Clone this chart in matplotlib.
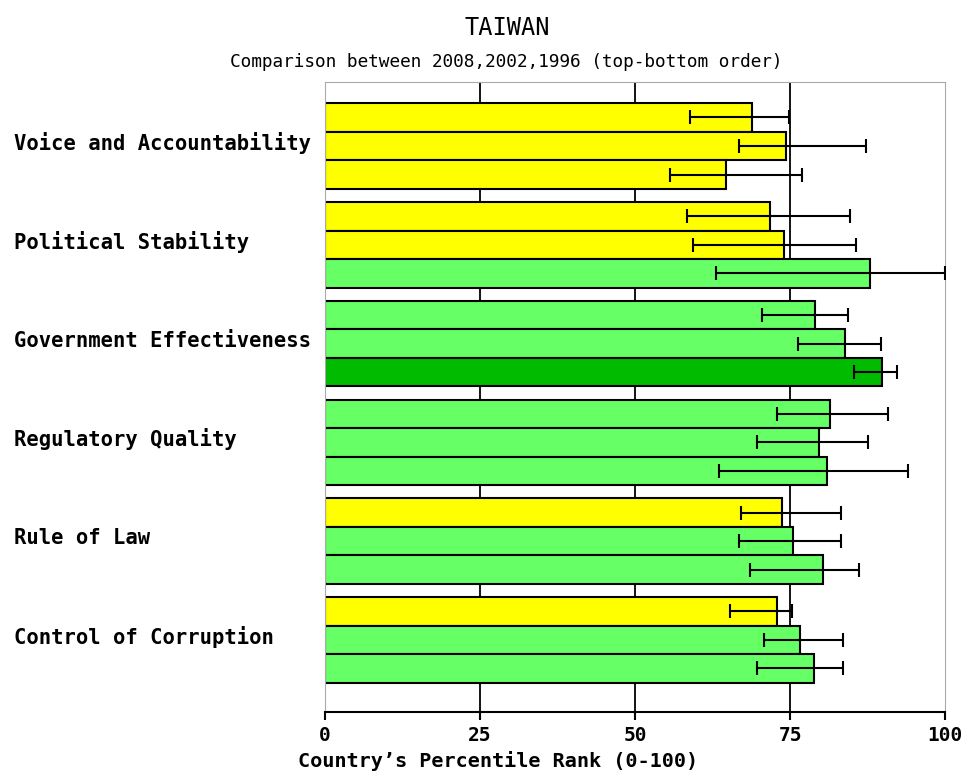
# Taiwan governance indicators: 2008, 2002, 1996 percentile ranks with error margins

import numpy as np
from matplotlib import pyplot as plt

kategorie = ["Voice and Accountability", "Political Stability",
             "Government Effectiveness", "Regulatory Quality",
             "Rule of Law", "Control of Corruption"]
lata = ["2008", "2002", "1996"]

# percentile rank per category, order 2008, 2002, 1996
rank = [[68.8, 74.3, 64.6],
        [71.7, 74.0, 87.9],
        [79.0, 83.9, 89.9],
        [81.5, 79.6, 81.0],
        [73.7, 75.5, 80.4],
        [72.9, 76.6, 78.9]]
dolny = [[58.8, 66.8, 55.6],
         [58.4, 59.3, 63.0],
         [70.5, 76.3, 85.3],
         [72.9, 69.7, 63.6],
         [67.1, 66.8, 68.6],
         [65.3, 70.8, 69.6]]
gorny = [[74.9, 87.3, 77.0],
         [84.7, 85.6, 100.0],
         [84.4, 89.6, 92.3],
         [90.8, 87.6, 94.0],
         [83.3, 83.3, 86.2],
         [75.4, 83.5, 83.5]]
# colour class: y = yellow, g = light green, G = dark green
klasa = [["y", "y", "y"],
         ["y", "y", "g"],
         ["g", "g", "G"],
         ["g", "g", "g"],
         ["y", "g", "g"],
         ["y", "g", "g"]]
kolory = {"y": "#ffff00", "g": "#66ff66", "G": "#00bb00"}


def raport():
    fig = plt.figure(figsize=(9.66, 7.74), dpi=100)
    ax = fig.add_axes([325 / 966, 62 / 774, 620 / 966, 630 / 774])
    h = 0.289
    for i in range(len(kategorie)):
        for j in range(len(lata)):
            y = i + (j - 1) * h
            v = rank[i][j]
            ax.barh(y, v, height=h, color=kolory[klasa[i][j]],
                    edgecolor="black", linewidth=1.5, zorder=2)
            ax.errorbar(v, y, xerr=[[v - dolny[i][j]], [gorny[i][j] - v]],
                        fmt="none", ecolor="black", elinewidth=1.5,
                        capsize=5.3, capthick=1.5, zorder=3)
    ax.set_xlim(0, 100)
    ax.set_ylim(5.73, -0.648)
    ax.set_xticks([0, 25, 50, 75, 100])
    ax.set_xticklabels(["0", "25", "50", "75", "100"],
                       family="DejaVu Sans Mono", fontweight="bold", fontsize=14)
    for x in [25, 50, 75]:
        ax.axvline(x, color="black", linewidth=1.3, zorder=0)
    ax.set_yticks([])
    for s in ["top", "right", "left"]:
        ax.spines[s].set_color("#aaaaaa")
    ax.spines["bottom"].set_linewidth(1.5)
    ax.tick_params(axis="x", length=6, width=1.5, pad=4)
    for i, k in enumerate(kategorie):
        ax.text(-311 / 6.2, i - 0.03, k, ha="left", va="center",
                family="DejaVu Sans Mono", fontweight="bold", fontsize=14.8)
    fig.text(507 / 966, 1 - 28 / 774, "TAIWAN", ha="center", va="center",
             family="DejaVu Sans Mono", fontsize=17)
    fig.text(506 / 966, 1 - 62 / 774,
             "Comparison between 2008,2002,1996 (top-bottom order)",
             ha="center", va="center", family="DejaVu Sans Mono", fontsize=12.8)
    fig.text(298 / 966, 1 - 761 / 774, "Country\u2019s Percentile Rank (0-100)",
             ha="left", va="center", family="DejaVu Sans Mono",
             fontweight="bold", fontsize=14.5)
    fig.savefig("out.png", dpi=100)


if __name__ == '__main__':
    raport()
